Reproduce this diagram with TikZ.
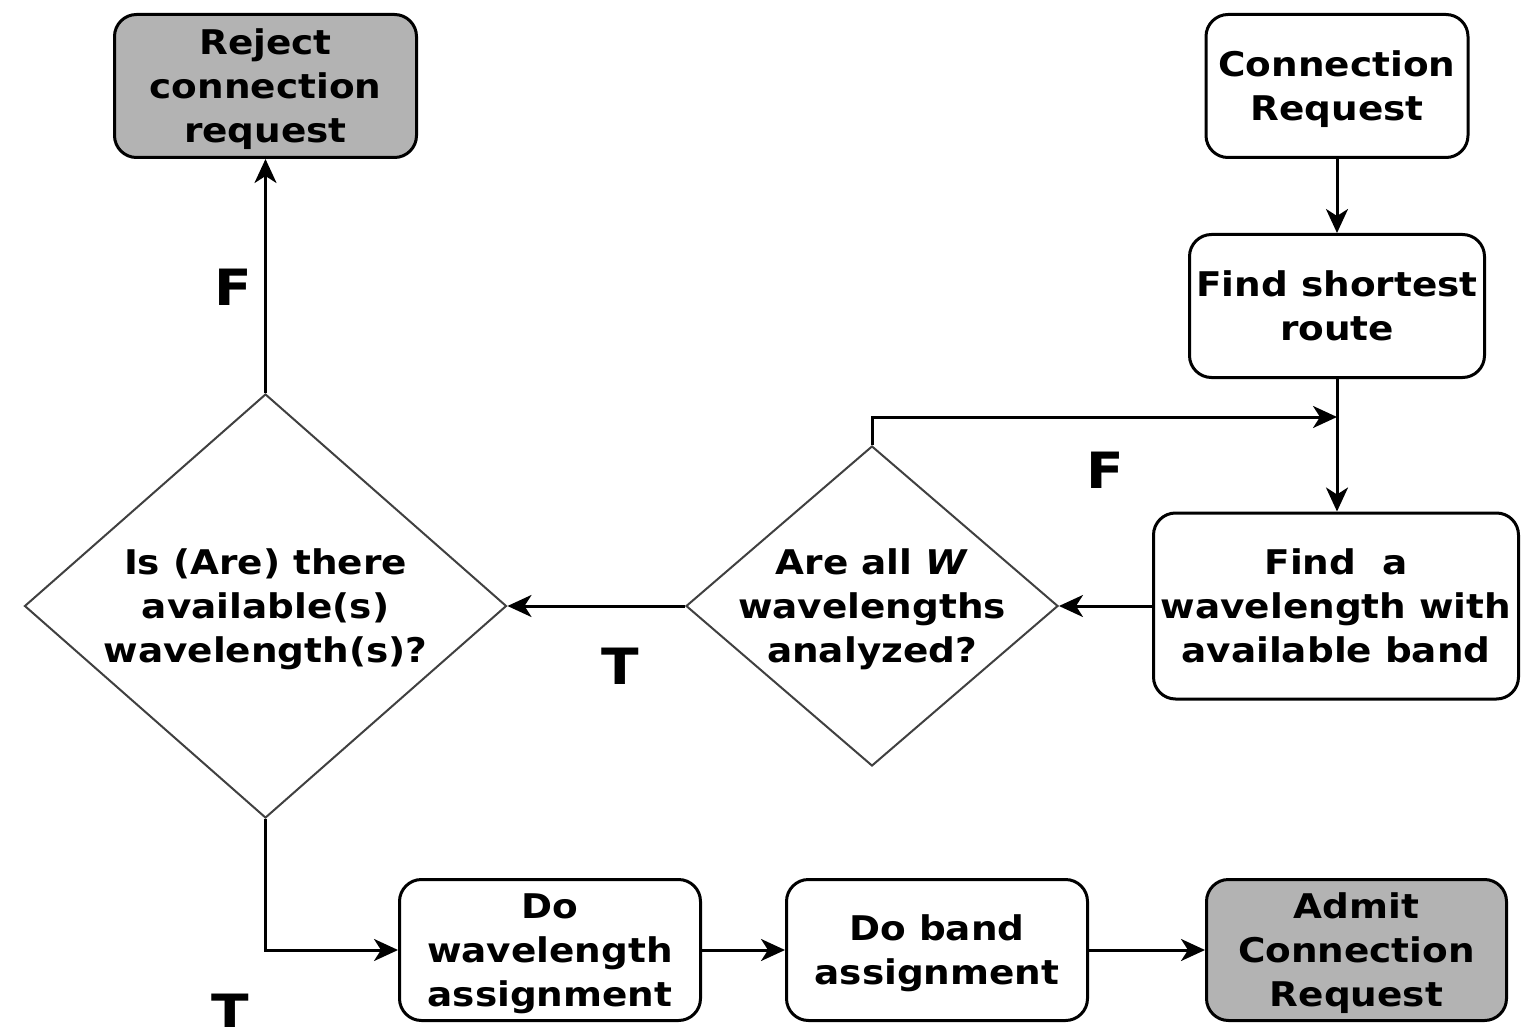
\documentclass[tikz,border=0pt]{standalone}
\usepackage{fontspec}
\setmainfont{DejaVu Sans}[FakeStretch=1.1]
\usetikzlibrary{shapes.geometric,arrows.meta}
\definecolor{boxgray}{RGB}{179,179,179}

\begin{document}
\begin{tikzpicture}[x=1pt,y=-1pt,
  every node/.style={font=\fontsize{34}{44}\selectfont\bfseries, align=center},
  proc/.style={draw=black, line width=3pt, rounded corners=22pt, inner sep=0pt, fill=white, text depth=0pt},
  term/.style={proc, fill=boxgray},
  decision/.style={diamond, draw=black!75, line width=2pt, inner xsep=-40pt, inner ysep=0pt, text depth=0pt},
  flow/.style={line width=3pt, -{Stealth[length=24pt,width=22pt,inset=7pt]}},
  branch/.style={font=\fontsize{50}{50}\selectfont\bfseries}]

\useasboundingbox (0,0) rectangle (1521,1027);

% process and terminal boxes
\node[term, minimum width=302, minimum height=143] (reject) at (265.5,86) {Reject\\connection\\request};
\node[proc, minimum width=262, minimum height=143] (req) at (1337,86) {Connection\\Request};
\node[proc, minimum width=295, minimum height=143] (route) at (1337,306) {Find shortest\\route};
\node[proc, minimum width=365, minimum height=186] (findw) at (1336,606) {Find\ \ a\\wavelength with\\available band};
\node[proc, minimum width=301, minimum height=141] (dow) at (550,950) {Do\\wavelength\\assignment};
\node[proc, minimum width=301, minimum height=141] (dob) at (937,950) {Do band\\assignment};
\node[term, minimum width=300, minimum height=141] (admit) at (1356.5,950) {Admit\\Connection\\Request};

% decisions
\node[decision, minimum width=482, minimum height=424] (avail) at (265.5,606) {Is (Are) there\\available(s)\\wavelength(s)?};
\node[decision, minimum width=372, minimum height=320] (all) at (872,606) {Are all \textit{W}\\wavelengths\\analyzed?};

% merge point on the route line
\coordinate (merge) at (1337,417);

% connectors
\draw[flow] (req) -- (route);
\draw[flow] (route.south) -- (route.south |- findw.north);
\draw[flow] (findw) -- (all);
\draw[flow] (all) -- (avail);
\draw[flow] (all.north) |- (merge);
\draw[flow] (avail.north) -- (reject.south);
\draw[flow] (avail.south) |- (dow.west);
\draw[flow] (dow) -- (dob);
\draw[flow] (dob) -- (admit);

% branch labels
\node[branch] (fup) at (233,287) {F};
\node[branch] (tleft) at (620,666) {T};
\node[branch] (floop) at (1105,470) {F};
\node[branch] (tdown) at (230,1012) {T};
\end{tikzpicture}
\end{document}
